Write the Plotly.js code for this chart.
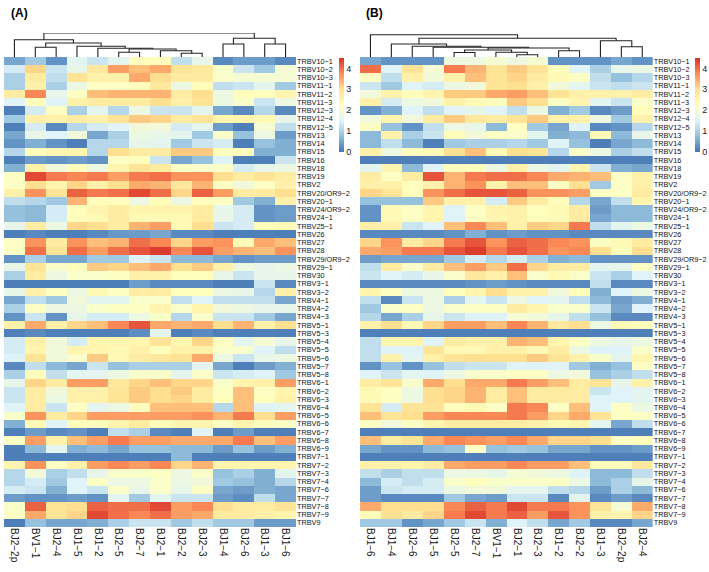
<!DOCTYPE html>
<html>
<head>
<meta charset="utf-8">
<script src="https://cdn.plot.ly/plotly-3.0.1.min.js"></script>
<style>html,body{margin:0;padding:0;background:#fff;}#chart{width:709px;height:572px;}</style>
</head>
<body>
<div id="chart"></div>
<script>
// ---------- DATA ----------
const rows = ["TRBV10−1","TRBV10−2","TRBV10−3","TRBV11−1","TRBV11−2","TRBV11−3","TRBV12−3","TRBV12−4","TRBV12−5","TRBV13","TRBV14","TRBV15","TRBV16","TRBV18","TRBV19","TRBV2","TRBV20/OR9−2","TRBV20−1","TRBV24/OR9−2","TRBV24−1","TRBV25−1","TRBV26","TRBV27","TRBV28","TRBV29/OR9−2","TRBV29−1","TRBV30","TRBV3−1","TRBV3−2","TRBV4−1","TRBV4−2","TRBV4−3","TRBV5−1","TRBV5−3","TRBV5−4","TRBV5−5","TRBV5−6","TRBV5−7","TRBV5−8","TRBV6−1","TRBV6−2","TRBV6−3","TRBV6−4","TRBV6−5","TRBV6−6","TRBV6−7","TRBV6−8","TRBV6−9","TRBV7−1","TRBV7−2","TRBV7−3","TRBV7−4","TRBV7−6","TRBV7−7","TRBV7−8","TRBV7−9","TRBV9"];

const colsA = ["BJ2−2p","BV1−1","BJ2−4","BJ1−5","BJ1−2","BJ2−5","BJ2−7","BJ2−1","BJ2−2","BJ2−3","BJ1−4","BJ2−6","BJ1−3","BJ1−6"];
const colsB = ["BJ1−6","BJ1−4","BJ2−6","BJ1−5","BJ2−5","BJ2−7","BV1−1","BJ2−1","BJ2−3","BJ1−2","BJ2−2","BJ1−3","BJ2−2p","BJ2−4"];

const valuesA = [
[0.5,0.9,0.3,1.6,1.3,1.6,2.3,2.3,1.2,1.7,0.2,0.4,0.4,0.2],
[1.4,3.1,1.3,1.7,2.8,3.6,3.3,3.5,2.9,2.8,2.1,1.3,0.9,2.0],
[1.0,2.7,1.2,2.9,2.6,2.6,3.5,3.0,2.7,2.7,2.1,2.0,2.0,2.0],
[1.0,2.6,1.0,1.8,2.2,2.2,2.3,2.8,1.8,2.3,1.2,1.3,1.6,0.9],
[2.7,3.8,1.7,2.2,3.3,3.4,3.4,3.4,2.7,3.0,1.8,2.3,2.3,2.5],
[1.5,2.3,1.5,2.6,2.7,2.7,2.7,3.0,2.6,2.9,1.8,2.1,1.3,1.8],
[0.1,1.4,2.2,1.0,1.6,1.1,1.8,1.3,1.3,1.6,0.5,0.2,1.1,0.2],
[0.9,2.6,2.6,2.7,2.6,2.9,3.2,3.1,2.7,2.9,2.5,2.5,2.4,1.7],
[0.1,1.4,0.2,1.1,1.4,1.5,1.9,1.9,1.4,1.6,0.4,0.1,2.0,1.2],
[0.5,1.7,1.5,1.9,0.5,1.0,1.8,1.7,1.6,0.9,2.1,0.8,1.8,0.4],
[0.3,0.6,0.3,0.1,1.1,1.1,1.7,1.6,0.9,1.3,1.4,0.1,0.8,0.6],
[1.1,2.3,2.5,2.5,1.1,3.0,2.7,2.7,3.2,3.2,2.3,2.3,0.6,0.6],
[0.1,0.4,0.3,0.4,0.3,2.2,2.3,1.3,0.5,0.8,1.5,0.1,0.1,1.3],
[0.6,2.6,1.9,2.3,1.8,2.5,2.9,2.7,2.2,2.1,2.1,1.4,1.7,1.8],
[2.2,4.3,3.9,3.8,3.9,3.6,3.9,4.0,3.7,3.7,3.0,2.7,2.9,2.7],
[2.2,3.0,2.5,3.1,2.6,3.0,3.5,3.4,2.8,3.4,2.2,1.9,2.2,2.6],
[2.6,3.7,2.9,4.1,3.9,4.0,4.3,4.0,3.1,4.1,3.6,2.7,2.7,3.0],
[1.2,1.1,0.9,3.4,2.3,2.3,1.8,2.3,1.8,2.3,2.2,0.9,0.6,2.6],
[0.8,0.7,1.4,2.3,2.5,2.7,2.5,2.5,2.5,2.7,1.7,1.4,0.3,0.4],
[0.8,0.7,1.4,2.3,2.4,2.7,2.4,2.4,2.4,2.7,1.7,1.4,0.3,0.4],
[1.7,2.7,1.8,3.1,3.0,2.7,3.4,3.6,2.4,3.0,1.3,1.4,2.3,2.4],
[0.1,0.2,0.1,0.1,0.2,0.35,0.4,0.5,0.2,0.2,0.1,0.1,0.1,0.1],
[2.2,3.7,2.7,3.7,3.3,3.4,4.0,3.8,3.1,3.6,3.7,2.4,3.5,3.3],
[2.2,4.0,2.9,4.0,3.6,4.0,4.2,4.4,3.8,4.2,3.6,3.4,3.3,3.7],
[0.3,1.0,0.5,0.5,0.9,0.9,1.5,1.3,0.7,0.7,0.5,0.3,0.4,0.4],
[1.7,2.9,2.1,2.3,3.2,3.1,3.3,3.5,3.0,3.2,2.6,1.8,1.7,1.8],
[1.0,2.7,1.8,2.1,2.1,2.2,2.6,2.6,2.3,2.3,1.7,1.3,1.7,1.7],
[0.1,0.1,0.1,0.1,0.1,0.1,0.4,0.2,0.2,0.2,0.1,0.1,1.3,0.2],
[1.7,2.6,2.2,1.8,2.4,2.2,2.7,2.7,2.3,2.3,1.8,1.7,1.1,2.6],
[0.5,1.2,0.9,1.9,1.6,1.6,2.1,2.1,1.2,1.5,1.2,1.2,1.2,0.5],
[1.0,2.2,1.8,1.8,2.1,2.2,2.2,2.5,2.1,2.5,1.9,1.8,1.7,1.7],
[0.3,1.3,0.3,1.7,1.4,1.4,1.8,2.1,1.1,2.1,1.3,1.3,0.9,0.5],
[2.6,3.5,2.6,3.1,3.3,3.8,4.2,3.5,3.4,3.5,3.0,3.4,2.6,3.0],
[0.1,0.2,0.1,0.1,0.1,0.1,0.25,1.6,0.1,0.2,0.1,0.1,0.1,0.1],
[1.4,2.6,1.9,1.4,2.5,2.5,2.5,2.9,2.5,3.1,2.2,1.6,2.0,1.7],
[1.4,2.5,1.9,2.5,2.5,2.4,2.6,2.3,2.6,2.6,2.1,2.1,1.5,1.2],
[1.5,2.9,1.9,2.1,3.2,2.4,2.7,2.8,2.9,3.5,1.8,1.3,1.7,1.8],
[0.2,1.2,0.7,0.5,1.3,0.8,1.0,1.0,1.0,1.6,0.5,0.1,0.4,0.6],
[1.0,2.3,1.2,1.6,1.6,1.8,2.1,2.1,1.6,2.1,1.3,1.4,1.5,0.9],
[1.7,3.1,2.7,3.6,3.6,2.8,3.1,3.3,3.1,3.1,2.1,2.5,2.6,3.6],
[1.3,2.7,1.9,2.6,2.6,2.9,3.2,3.0,3.2,2.7,2.2,3.3,2.2,2.5],
[1.3,2.7,1.8,2.6,2.6,2.9,3.2,3.0,3.1,2.7,2.3,3.3,2.3,2.6],
[1.5,2.7,1.3,2.2,1.6,1.8,2.3,3.3,3.3,3.3,1.1,3.3,1.5,1.6],
[2.1,3.7,2.7,3.1,3.6,3.6,3.6,3.6,3.6,3.7,3.4,3.9,3.0,3.6],
[0.6,2.4,1.5,2.3,2.3,2.5,2.7,2.3,2.5,2.5,2.2,2.5,2.3,2.2],
[0.1,0.4,0.2,0.3,0.1,1.2,1.0,0.2,0.1,1.5,0.1,0.4,0.1,0.1],
[2.2,3.6,2.6,3.3,3.6,3.9,3.6,3.6,3.5,3.5,3.5,3.9,3.3,3.6],
[0.1,0.7,1.6,0.6,0.7,0.5,0.8,0.8,0.7,0.7,0.4,0.8,0.4,0.6],
[0.1,0.1,0.1,0.1,0.1,0.1,0.1,0.1,0.7,0.1,0.1,0.1,0.1,0.1],
[2.5,3.7,2.2,2.6,3.6,3.8,3.6,3.8,3.1,3.4,2.5,2.5,2.5,2.5],
[1.1,1.9,1.0,1.2,1.7,2.1,2.1,2.2,1.8,2.1,0.8,1.0,0.6,1.6],
[1.1,1.4,0.9,1.5,2.2,1.8,1.8,2.1,1.8,1.9,0.9,0.8,0.6,1.1],
[1.4,1.3,0.6,1.5,1.3,2.1,1.7,2.1,1.7,2.2,0.5,0.4,0.6,0.5],
[0.4,0.3,0.3,0.4,0.3,1.6,0.9,1.6,1.3,1.3,0.4,0.25,1.2,0.5],
[2.1,4.1,2.9,3.0,4.1,4.0,4.0,4.3,3.6,3.8,3.0,2.7,2.7,2.9],
[2.2,3.5,2.9,3.1,4.3,4.0,3.8,4.0,3.6,3.5,2.7,2.7,2.6,2.5],
[0.1,0.8,0.5,0.5,0.6,1.0,1.3,1.3,0.9,1.2,0.9,0.9,0.4,0.4]
];

const valuesB = [
[0.5,0.3,0.3,0.3,1.8,1.8,2.0,1.8,2.0,0.3,0.3,0.3,0.5,0.3],
[4.0,1.5,2.9,2.0,3.9,3.4,2.9,3.2,2.9,2.3,1.5,1.0,1.7,1.8],
[2.2,1.2,2.6,1.9,2.6,3.3,2.9,3.1,2.7,2.4,2.2,1.2,0.8,1.1],
[1.3,0.9,1.5,1.4,1.8,1.9,2.9,3.0,2.6,1.9,1.6,1.3,1.2,1.3],
[1.9,2.6,2.3,2.5,3.2,3.2,3.5,3.6,3.3,2.9,2.6,2.6,2.6,2.7],
[2.6,1.4,1.8,1.9,2.6,2.4,2.3,3.2,3.0,2.2,2.5,1.6,1.3,2.1],
[0.3,0.6,1.5,1.2,1.5,1.7,1.5,1.2,1.8,0.6,0.9,0.2,0.4,2.3],
[1.9,2.5,1.9,2.7,3.2,2.8,2.7,2.9,3.2,2.6,2.6,1.8,0.9,2.6],
[2.2,0.8,0.3,1.2,1.8,1.7,0.7,2.2,0.9,0.5,1.5,0.2,0.3,1.1],
[0.7,2.6,1.0,1.3,2.3,1.9,2.2,2.1,1.6,0.6,0.7,2.4,0.7,1.7],
[0.7,1.2,0.7,0.1,0.9,1.0,1.0,1.1,0.9,1.5,0.8,0.1,0.5,0.7],
[2.6,1.8,2.3,2.4,3.0,3.3,2.4,3.0,2.9,1.1,2.1,1.8,1.0,1.2],
[0.1,0.1,0.1,0.1,0.1,0.1,0.1,0.1,0.1,0.1,0.1,0.1,0.1,0.1],
[1.6,2.5,0.7,1.5,2.3,2.3,1.8,2.6,1.8,1.6,2.5,1.3,0.6,0.5],
[2.7,2.2,2.7,4.2,3.4,3.9,4.0,4.0,3.8,3.5,3.4,3.3,2.2,2.6],
[2.6,2.6,2.3,2.6,3.4,3.7,2.6,3.3,3.3,2.2,3.0,0.9,2.2,2.6],
[3.1,2.9,2.3,3.7,4.0,4.2,4.2,4.1,3.7,3.7,3.6,2.2,2.2,2.7],
[0.8,0.8,0.8,3.2,2.6,2.6,1.4,3.2,2.7,2.3,1.1,0.5,1.2,2.5],
[0.3,2.4,2.2,2.5,1.5,2.2,2.5,2.6,2.3,2.4,2.7,0.4,0.7,0.7],
[0.3,2.4,2.2,2.5,1.5,2.2,2.5,2.6,2.3,2.4,2.7,0.5,0.7,0.7],
[2.6,2.6,1.3,1.5,3.3,3.8,3.3,2.6,3.2,3.1,3.9,1.2,1.6,1.8],
[0.2,0.2,0.2,0.2,0.3,0.6,0.3,0.4,0.3,0.3,0.2,0.2,0.2,0.2],
[3.1,3.7,2.7,3.1,3.9,4.2,3.7,4.1,4.0,3.8,3.7,2.2,2.4,2.7],
[3.5,3.6,3.9,3.9,4.2,4.4,3.9,4.2,4.0,3.7,3.8,3.0,2.3,3.0],
[0.4,0.5,0.5,0.5,0.9,1.4,1.1,1.4,1.0,0.6,0.7,0.3,0.3,0.3],
[1.2,2.7,2.1,2.7,3.3,3.6,3.2,4.0,3.1,2.7,2.7,1.6,1.7,2.2],
[1.3,1.5,1.4,1.7,2.1,2.8,2.6,3.3,2.1,2.4,2.1,1.3,1.0,1.5],
[0.2,0.2,0.2,0.2,0.2,0.3,0.4,0.3,0.2,0.2,0.2,1.2,0.2,0.2],
[2.5,2.2,1.8,1.8,2.3,2.5,3.0,2.6,2.6,1.9,2.3,0.6,1.5,1.8],
[1.2,0.2,1.3,1.8,1.0,1.6,1.3,1.8,1.5,1.6,1.2,0.7,0.4,0.6],
[0.9,2.1,2.2,1.8,2.1,2.2,2.2,2.7,2.5,2.1,2.1,1.3,0.5,1.5],
[1.1,0.5,1.0,1.7,1.3,1.5,1.5,2.0,1.9,1.7,1.2,0.8,0.2,0.2],
[2.6,3.0,2.4,3.1,3.6,3.6,3.3,3.8,3.4,2.8,3.0,1.8,2.4,2.3],
[0.1,0.1,0.1,0.1,0.1,0.1,0.1,0.1,0.1,0.1,0.1,0.1,0.1,0.1],
[1.2,2.5,2.5,1.5,2.7,2.6,2.6,3.4,3.3,2.5,2.2,1.8,1.7,1.8],
[1.2,1.5,1.5,2.9,2.4,2.4,2.6,2.6,2.4,2.7,1.8,1.5,1.5,2.1],
[1.2,2.6,1.6,2.6,2.9,3.0,3.0,3.0,3.2,2.9,2.6,2.1,1.6,2.5],
[0.3,0.8,0.3,0.8,1.2,1.3,1.3,1.5,1.5,1.5,0.9,0.6,0.8,2.2],
[1.5,1.3,1.6,1.5,1.8,2.1,2.1,2.2,2.2,1.8,1.9,0.8,1.0,1.2],
[2.7,2.9,2.1,3.5,3.0,3.5,3.5,3.9,3.6,3.3,2.7,2.9,1.7,2.6],
[2.4,2.2,1.8,3.0,3.1,3.4,2.7,3.3,2.7,2.7,2.7,1.3,1.5,1.6],
[2.4,2.2,1.8,3.0,3.1,3.4,2.7,3.3,2.7,2.7,2.7,1.5,1.5,1.6],
[2.9,1.4,2.9,2.9,2.3,2.4,2.2,3.9,3.8,2.2,3.3,1.5,2.2,1.8],
[3.3,2.9,3.0,3.6,3.8,3.8,3.8,3.9,3.6,3.1,3.5,2.9,2.2,2.2],
[2.2,1.9,2.2,2.5,2.7,2.7,2.7,2.7,2.6,2.4,2.5,1.6,0.5,1.2],
[0.1,0.1,0.1,0.1,0.1,0.1,0.1,0.1,0.1,0.1,0.1,0.1,0.1,0.1],
[3.3,2.7,2.9,3.5,3.8,3.7,3.6,3.8,3.5,3.1,3.1,3.0,2.2,2.3],
[0.5,0.3,0.3,0.7,0.8,2.2,0.8,0.9,0.8,0.5,0.5,0.3,0.3,0.4],
[0.1,0.1,0.1,0.1,0.1,0.1,0.1,0.1,0.1,0.1,0.1,0.1,0.1,0.1],
[2.6,2.6,2.5,2.7,3.5,3.6,3.6,3.8,3.6,3.6,3.3,2.3,2.3,2.8],
[1.2,1.0,1.2,1.2,1.8,1.8,1.7,2.0,1.9,1.8,1.5,0.7,0.7,1.2],
[0.7,1.4,1.2,1.4,2.1,2.3,2.1,2.1,2.1,2.2,1.8,0.7,1.0,1.7],
[0.4,1.3,1.4,1.4,1.8,1.9,1.9,1.6,1.6,1.2,1.1,0.4,1.0,0.7],
[0.4,0.2,0.2,0.2,0.9,0.5,0.4,1.3,1.3,0.2,1.6,0.2,0.4,0.2],
[3.5,3.0,3.0,3.0,3.8,4.1,3.9,4.3,3.9,3.9,3.7,2.9,2.0,3.5],
[2.3,3.0,2.7,3.1,3.9,4.3,3.9,4.1,3.6,4.2,3.7,2.6,2.5,3.1],
[0.9,0.9,0.3,0.5,0.9,1.3,0.6,1.5,1.2,0.5,0.9,0.2,0.2,0.5]
];

// Dendrogram merges: non-negative = leaf (column position), negative -(k+1) = merge k
const mergesA = [[8,9],[7,-1],[5,6],[-3,-2],[4,-4],[3,-5],[1,2],[-7,-6],[0,-8],[10,11],[12,13],[-10,-11],[-9,-12]];
const heightsA = [3.7,6.3,4.7,8.0,8.7,10.7,9.7,14.0,17.3,13.0,13.0,18.7,24.0];
const mergesB = [[7,8],[6,-1],[4,5],[-3,-2],[9,10],[-4,-5],[3,-6],[2,-7],[1,-8],[12,13],[11,-10],[-9,-11],[0,-12]];
const heightsB = [2.3,4.7,4.5,7.0,6.3,9.0,9.7,10.7,13.0,10.3,16.3,18.7,22.3];

const colorbarTicks = [0,1,2,3,4];
const zMin = 0, zMax = 4.5;

// ---------- BUILD ----------
const W = 709, H = 572;
const FONT = "Liberation Sans, Arial, sans-serif";
const palette = ["#4575b4","#91bfdb","#e0f3f8","#ffffbf","#fee090","#fc8d59","#d73027"];
const colorscale = palette.map((c,i)=>[i/(palette.length-1), c]);

function dendroLines(merges, heights){
  const pos = [], hgt = [];
  const xs = [], ys = [];
  function info(c){ return c >= 0 ? [c, 0] : [pos[-c-1], hgt[-c-1]]; }
  merges.forEach((m,k)=>{
    const [xa, ha] = info(m[0]);
    const [xb, hb] = info(m[1]);
    const h = heights[k];
    xs.push(xa, xa, xb, xb, null);
    ys.push(ha, h, h, hb, null);
    pos[k] = (xa+xb)/2; hgt[k] = h;
  });
  return {xs, ys};
}

const rowIdx = rows.map((_,i)=>i);
const colIdx = colsA.map((_,i)=>i);

const px2fx = p => p / W;
const px2fy = p => 1 - p / H;
const heatTop = 57, heatBot = 527, dendTop = 33;

function cbar(xpx){
  return {x: px2fx(xpx), xanchor:'left', xref:'paper', y: px2fy(58), yanchor:'top', yref:'paper',
    len: 94, lenmode:'pixels', thickness: 5, thicknessmode:'pixels', outlinewidth: 0,
    xpad: 0, ypad: 0, tickvals: colorbarTicks, ticks:'', tickfont:{size:9, color:'#222', family:FONT}};
}

const dA = dendroLines(mergesA, heightsA);
const dB = dendroLines(mergesB, heightsB);

const traces = [
  {type:'heatmap', z: valuesA, x: colIdx, y: rowIdx, xaxis:'x', yaxis:'y', colorscale, zmin:zMin, zmax:zMax,
   colorbar: cbar(339), hoverinfo:'z'},
  {type:'heatmap', z: valuesB, x: colIdx, y: rowIdx, xaxis:'x2', yaxis:'y2', colorscale, zmin:zMin, zmax:zMax,
   colorbar: cbar(695), hoverinfo:'z'},
  {type:'scatter', mode:'lines', x: dA.xs, y: dA.ys, xaxis:'x', yaxis:'y3', line:{color:'#222', width:1.1}, hoverinfo:'skip', showlegend:false},
  {type:'scatter', mode:'lines', x: dB.xs, y: dB.ys, xaxis:'x2', yaxis:'y4', line:{color:'#222', width:1.1}, hoverinfo:'skip', showlegend:false}
];

const xCommon = {range:[-0.5,13.5], tickvals: colIdx, tickangle: 90, ticks:'', showgrid:false, zeroline:false, showline:false,
  tickfont:{size:10, color:'#1a1a1a', family:FONT}, fixedrange:true};
const yCommon = {range:[56.5,-0.5], tickvals: rowIdx, ticktext: rows, side:'right', ticks:'', showgrid:false, zeroline:false, showline:false,
  tickfont:{size:7.3, color:'#111', family:FONT}, domain:[px2fy(heatBot), px2fy(heatTop)], fixedrange:true};
const dCommon = {range:[0,24], visible:false, domain:[px2fy(heatTop), px2fy(dendTop)], fixedrange:true};

const layout = {
  width: W, height: H, margin:{l:0,r:0,t:0,b:0}, paper_bgcolor:'#fff', plot_bgcolor:'#fff', showlegend:false,
  font:{family:FONT, color:'#222'},
  xaxis: Object.assign({}, xCommon, {domain:[px2fx(4), px2fx(296)], ticktext: colsA, anchor:'y'}),
  yaxis: Object.assign({}, yCommon, {anchor:'x'}),
  xaxis2: Object.assign({}, xCommon, {domain:[px2fx(360), px2fx(652.7)], ticktext: colsB, anchor:'y2'}),
  yaxis2: Object.assign({}, yCommon, {anchor:'x2'}),
  yaxis3: Object.assign({}, dCommon, {anchor:'x'}),
  yaxis4: Object.assign({}, dCommon, {anchor:'x2'}),
  annotations: [
    {text:'<b>(A)</b>', xref:'paper', yref:'paper', x: px2fx(9), y: px2fy(13), xanchor:'left', yanchor:'middle', showarrow:false, font:{size:12, color:'#000', family:FONT}},
    {text:'<b>(B)</b>', xref:'paper', yref:'paper', x: px2fx(364), y: px2fy(13), xanchor:'left', yanchor:'middle', showarrow:false, font:{size:12, color:'#000', family:FONT}}
  ]
};

Plotly.newPlot('chart', traces, layout, {displayModeBar:false, staticPlot:true});
</script>
</body>
</html>
